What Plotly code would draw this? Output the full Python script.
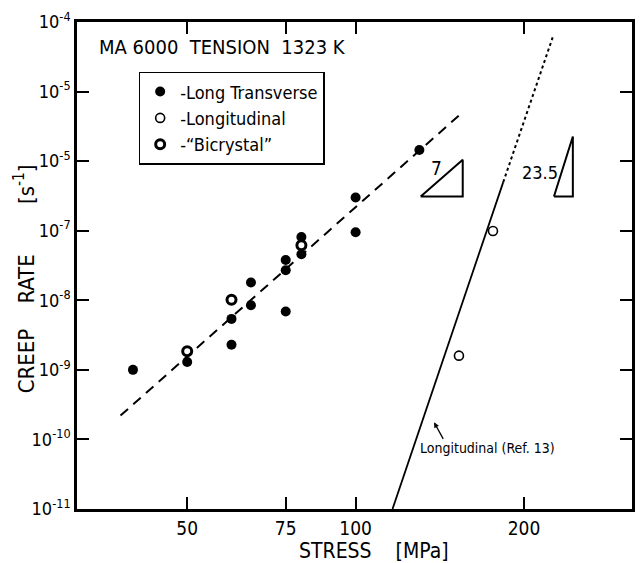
import plotly.graph_objects as go

# ---------------- data ----------------
lt_stress = [40, 50, 60, 60, 65, 65, 75, 75, 75, 80, 80, 100, 100, 130]
lt_rate = [1.0e-9, 1.3e-9, 5.4e-9, 2.3e-9, 1.8e-8, 8.5e-9, 3.8e-8, 2.7e-8, 6.9e-9,
           8.1e-8, 4.6e-8, 3.0e-7, 9.5e-8, 1.45e-6]

long_stress = [153, 176]
long_rate = [1.6e-9, 9.9e-8]

bi_stress = [50, 60, 80]
bi_rate = [1.85e-9, 1.02e-8, 6.2e-8]

fit_stress = [38, 156]
fit_rate = [2.2e-10, 5.2e-6]

ref_stress = [116.4, 183.6]
ref_rate = [1.0e-11, 5.0e-7]
ref_dot_stress = [183.6, 225]
ref_dot_rate = [5.0e-7, 6.0e-5]

tri7_stress = [130.7, 155.4, 155.4, 130.7]
tri7_rate = [3.1e-7, 3.1e-7, 1.05e-6, 3.1e-7]
tri23_stress = [226.2, 244.5, 244.5, 226.2]
tri23_rate = [3.1e-7, 3.1e-7, 2.26e-6, 3.1e-7]

x_ticks = [50, 75, 100, 200]
y_ticks = [1e-4, 1e-5, 1e-6, 1e-7, 1e-8, 1e-9, 1e-10, 1e-11]
y_ticktext = ["10<sup>-4</sup>", "10<sup>-5</sup>", "10<sup>-5</sup>", "10<sup>-7</sup>",
              "10<sup>-8</sup>", "10<sup>-9</sup>", "10<sup>-10</sup>", "10<sup>-11</sup>"]

FONT = "DejaVu Sans Condensed, Liberation Sans Narrow, DejaVu Sans, sans-serif"

fig = go.Figure()

fig.add_trace(go.Scatter(x=fit_stress, y=fit_rate, mode="lines",
                         line=dict(color="black", width=2, dash="10px,7px"),
                         showlegend=False, hoverinfo="skip"))
fig.add_trace(go.Scatter(x=ref_stress, y=ref_rate, mode="lines",
                         line=dict(color="black", width=1.8),
                         showlegend=False, hoverinfo="skip"))
fig.add_trace(go.Scatter(x=ref_dot_stress, y=ref_dot_rate, mode="lines",
                         line=dict(color="black", width=2, dash="dot"),
                         showlegend=False, hoverinfo="skip"))
for xs, ys in [(tri7_stress, tri7_rate), (tri23_stress, tri23_rate)]:
    fig.add_trace(go.Scatter(x=xs, y=ys, mode="lines",
                             line=dict(color="black", width=2),
                             showlegend=False, hoverinfo="skip"))

fig.add_trace(go.Scatter(x=lt_stress, y=lt_rate, mode="markers", name="-Long Transverse",
                         marker=dict(symbol="circle", size=10, color="black")))
fig.add_trace(go.Scatter(x=long_stress, y=long_rate, mode="markers", name="-Longitudinal",
                         marker=dict(symbol="circle-open", size=9, color="black",
                                     line=dict(width=1.6, color="black"))))
fig.add_trace(go.Scatter(x=bi_stress, y=bi_rate, mode="markers", name="-\u201cBicrystal\u201d",
                         marker=dict(symbol="circle-open", size=9, color="black",
                                     line=dict(width=3, color="black"))))

axis_common = dict(showgrid=False, zeroline=False, showline=True, linecolor="black",
                   linewidth=2.5, ticks="inside", ticklen=12, tickwidth=2,
                   tickcolor="black", mirror="ticks")

fig.update_xaxes(type="log", range=[1.502, 2.494], tickvals=x_ticks,
                 ticktext=[str(v) for v in x_ticks],
                 tickfont=dict(family=FONT, size=19, color="black"), **axis_common)
fig.update_yaxes(type="log", range=[-11, -4], tickvals=y_ticks, ticktext=y_ticktext,
                 tickfont=dict(family=FONT, size=18, color="black"), **axis_common)

pw, ph = 558, 489
def px(xp):
    return (xp - 77) / pw
def py(yp):
    return (509 - yp) / ph

annotations = [
    dict(text="MA 6000  TENSION  1323 K", x=px(97), y=py(45), xref="paper", yref="paper",
         xanchor="left", yanchor="middle", showarrow=False,
         font=dict(family=FONT, size=20, color="black")),
    dict(text="CREEP    RATE        [s<sup>-1</sup>]", x=px(24), y=py(278), xref="paper", yref="paper",
         xanchor="center", yanchor="middle", textangle=-90, showarrow=False,
         font=dict(family=FONT, size=22, color="black")),
    dict(text="STRESS    [MPa]", x=px(376), y=py(551), xref="paper", yref="paper",
         xanchor="center", yanchor="middle", showarrow=False,
         font=dict(family=FONT, size=21, color="black")),
    dict(text="7", x=px(438), y=py(167), xref="paper", yref="paper",
         xanchor="center", yanchor="middle", showarrow=False,
         font=dict(family=FONT, size=19, color="black")),
    dict(text="23.5", x=px(563), y=py(171), xref="paper", yref="paper",
         xanchor="right", yanchor="middle", showarrow=False,
         font=dict(family=FONT, size=18, color="black")),
    dict(text="Longitudinal (Ref. 13)", x=px(420), y=py(448), xref="paper", yref="paper",
         xanchor="left", yanchor="middle", showarrow=False,
         font=dict(family=FONT, size=14, color="black")),
    dict(text="", x=px(436), y=py(422), xref="paper", yref="paper",
         ax=10, ay=18, showarrow=True, arrowhead=2, arrowsize=0.8, arrowwidth=1.3,
         arrowcolor="black"),
]

fig.update_layout(
    width=644, height=563,
    margin=dict(l=77, r=9, t=20, b=54),
    plot_bgcolor="white", paper_bgcolor="white",
    font=dict(family=FONT, color="black"),
    annotations=annotations,
    showlegend=True,
    legend=dict(x=px(139), y=py(70), xanchor="left", yanchor="top",
                bordercolor="black", borderwidth=1.5, bgcolor="white",
                font=dict(family=FONT, size=18, color="black"),
                itemwidth=30, tracegroupgap=0),
)

fig.write_html("out.html")
